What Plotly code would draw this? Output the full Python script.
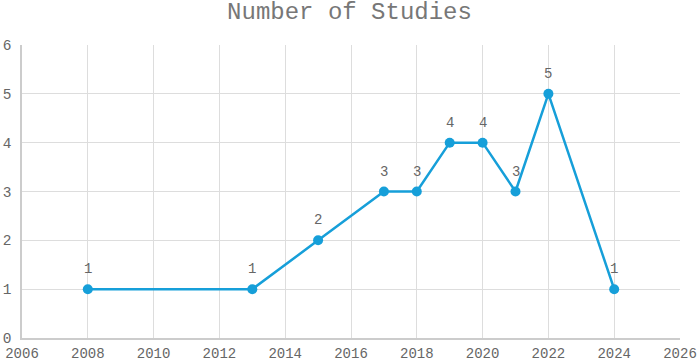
import plotly.graph_objects as go

years = [2008, 2013, 2015, 2017, 2018, 2019, 2020, 2021, 2022, 2024]
counts = [1, 1, 2, 3, 3, 4, 4, 3, 5, 1]
x_ticks = list(range(2006, 2027, 2))
y_ticks = list(range(0, 7))

font_family = "Liberation Mono, Courier New, monospace"
fig = go.Figure(go.Scatter(
    x=years, y=counts, mode="lines+markers",
    line=dict(color="#169fd9", width=2.5),
    marker=dict(color="#169fd9", size=10),
    cliponaxis=False,
))
for xv, yv in zip(years, counts):
    fig.add_annotation(x=xv, y=yv, text=str(yv), showarrow=False, yshift=20,
                       font=dict(family=font_family, size=14, color="#666666"))
fig.update_layout(
    width=699, height=362,
    margin=dict(l=22, r=19, t=45, b=24),
    paper_bgcolor="white", plot_bgcolor="white",
    title=dict(text="Number of Studies", x=0.5, xanchor="center", y=0.97, yanchor="middle",
               font=dict(family=font_family, size=24, color="#777777")),
    showlegend=False,
    font=dict(family=font_family, color="#666666", size=14),
)
fig.update_xaxes(range=[2006, 2026], tickvals=x_ticks, showgrid=True, gridcolor="#dddddd",
                 zeroline=False, showline=True, linecolor="#cccccc", linewidth=1.5,
                 ticks="", automargin=False, ticklabelstandoff=1,
                 tickfont=dict(size=14, color="#666666"))
fig.update_yaxes(range=[0, 6], tickvals=y_ticks, showgrid=True, gridcolor="#dddddd",
                 zeroline=False, showline=True, linecolor="#cccccc", linewidth=1.5,
                 ticks="", automargin=False, ticklabelstandoff=6,
                 tickfont=dict(size=14.5, color="#666666"))
fig.write_html("out.html")
